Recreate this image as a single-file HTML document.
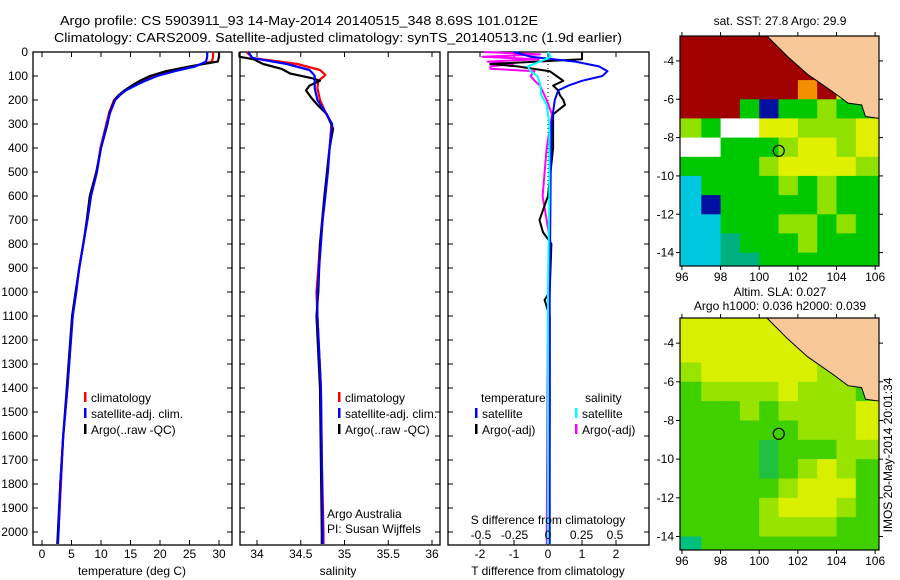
<!DOCTYPE html>
<html><head><meta charset="utf-8">
<style>
html,body{margin:0;padding:0;background:#fff;}
svg{display:block;font-family:"Liberation Sans",sans-serif;}
text{fill:#000;}
</style></head>
<body>
<svg id="fig" width="900" height="580" viewBox="0 0 900 580" xmlns="http://www.w3.org/2000/svg">
<text x="60" y="25" font-size="13" textLength="478" lengthAdjust="spacingAndGlyphs">Argo profile: CS 5903911_93 14-May-2014 20140515_348 8.69S 101.012E</text>
<text x="54" y="42" font-size="13" textLength="568" lengthAdjust="spacingAndGlyphs">Climatology: CARS2009. Satellite-adjusted climatology: synTS_20140513.nc (1.9d earlier)</text>
<g id="plots"></g>
<text transform="translate(892,455) rotate(-90)" font-size="12" text-anchor="middle">IMOS 20-May-2014 20:01:34</text>
</svg>
<script>
// ---------- profile data ----------
const tDepth = [0,20,40,60,80,100,120,140,160,180,200,250,300,400,500,600,700,800,900,1000,1100,1200,1400,1600,1800,2000,2050];
const tSat   = [28.0,28.0,27.8,26.0,22.5,19.5,17.5,15.8,14.2,13.2,12.4,11.6,11.0,10.0,9.3,8.3,7.7,7.0,6.3,5.8,5.2,4.9,4.3,3.6,3.1,2.8,2.7];
const tClim  = [29.0,29.0,28.8,25.5,22.0,19.0,17.0,15.5,14.0,13.0,12.2,11.4,10.9,9.9,9.3,8.3,7.7,7.0,6.3,5.8,5.2,4.9,4.3,3.6,3.2,2.8,2.7];
const tArgo  = [30.0,30.0,29.8,25.0,21.0,18.3,16.6,15.2,14.0,13.0,12.3,11.5,11.1,10.0,9.2,8.1,7.6,7.0,6.3,5.7,5.1,4.8,4.2,3.6,3.1,2.7,2.6];

const sDepth = [0,25,50,75,95,100,120,150,200,250,300,400,500,600,700,800,900,1000,1100,1400,1700,2000,2050];
const sSat   = [33.90,33.95,34.34,34.60,34.65,34.66,34.66,34.66,34.69,34.78,34.86,34.83,34.81,34.78,34.75,34.73,34.71,34.69,34.69,34.73,34.74,34.75,34.75];
const sClim  = [33.88,33.95,34.46,34.72,34.78,34.77,34.70,34.69,34.72,34.78,34.85,34.83,34.80,34.78,34.75,34.72,34.70,34.68,34.69,34.73,34.74,34.76,34.76];
const sArgoDepth = [0,20,30,50,70,90,110,120,140,160,190,220,260,320,400,600,800,1000,1100,1400,1700,2000,2050];
const sArgo  = [33.80,33.80,33.96,34.07,34.28,34.38,34.64,34.72,34.60,34.56,34.62,34.69,34.80,34.87,34.83,34.77,34.72,34.70,34.68,34.72,34.73,34.74,34.74];

const dDepth  = [0,20,40,60,80,100,120,140,160,200,300,500,1000,2050];
const dTSat   = [-1.0,-0.5,0.8,1.5,1.75,1.6,1.0,0.6,0.3,0.2,0.1,0.08,0.05,0.05];
const dTArgoDepth = [0,30,50,60,80,100,120,140,160,180,200,220,260,400,600,700,750,800,1000,1033,1100,1500,2050];
const dTArgo  = [1.0,1.0,-1.7,-0.9,0.05,0.25,0.45,0.15,0.3,0.35,0.45,0.5,0.15,0.15,0.0,-0.25,-0.15,0.1,0.05,-0.1,0.05,0.05,0.03];
const dSDepth = [0,20,40,60,80,100,130,180,220,300,600,1000,2050];
const dSSat   = [0.0,0.02,-0.06,-0.15,-0.13,-0.08,-0.06,-0.05,-0.01,0.01,0.01,0.0,0.0];
const dSArgoDepth = [0,10,20,30,40,50,60,70,80,100,120,140,200,260,400,600,800,1000,2050];
const dSArgo  = [-0.48,-0.06,-0.49,-0.07,-0.45,-0.26,-0.43,-0.43,-0.1,-0.13,-0.1,-0.06,-0.01,0.03,-0.01,-0.04,0.02,0.0,-0.01];

const depthTicks = [0,100,200,300,400,500,600,700,800,900,1000,1100,1200,1300,1400,1500,1600,1700,1800,1900,2000];
const tTicks = [0,5,10,15,20,25,30];
const sTicks = [34,34.5,35,35.5,36];
const dTTicks = [-2,-1,0,1,2];
const dSTicks = [-0.5,-0.25,0,0.25,0.5];

// ---------- map data (1-degree cells, lon 96..106; row 0 = -2.7..-4, row i = -(3+i)..-(4+i)) ----------
const sstRows = ["RRRRRROOOO","RRRRRRROOO","RRRRRRORYO","RRRGBGGLGG","LGWWYYLLLY","WWGGGLYYLY","GGGGLYYYYL","CGGGGLGLGG","CBGGGGGLGG","CCGGGLLGLG","CCTGGGLGGG","CCTTGGGGGG"];
const slaRows = ["YYYYYYLLLL","YYYYYYYLLG","LYYYYYYLLG","GLLLLYLLLG","GGGLGLLLLY","GGGGGGLLLY","GGGGDGGGLL","GGGGDGLYLG","GGGGGLYYYG","GGGGLYYYLG","GGGGLLLLGG","TGGGGGGGGG"];
const landLon = [100.4,101.5,102.5,103.8,104.6,105.3,105.5,106.2,106.2];
const landLat = [-2.7,-3.8,-4.7,-5.6,-6.2,-6.3,-6.9,-7.0,-2.7];
const argoLon = 101.012, argoLat = -8.69;
const mapTicksX = [96,98,100,102,104,106];
const mapTicksY = [-4,-6,-8,-10,-12,-14];

const NS="http://www.w3.org/2000/svg";
const root=document.getElementById('plots');
function el(tag,attrs,parent){const e=document.createElementNS(NS,tag);for(const k in attrs)e.setAttribute(k,attrs[k]);(parent||root).appendChild(e);return e;}
function txt(x,y,s,size,anchor,parent){const t=el('text',{x:x,y:y,'font-size':size||12,'text-anchor':anchor||'start'},parent);t.textContent=s;return t;}

const Y0=52, PX_PER_M=0.24, YB=545;
const yD=d=>Y0+d*PX_PER_M;
const xT=v=>42+v*5.9;
const xS=v=>257+(v-34)*87.5;
const xDT=v=>548+v*34;
const xDS=v=>548+v*134;

function line(xs,ds,fx,color,name,w){
  let d='';
  for(let i=0;i<xs.length;i++){d+=(i?'L':'M')+fx(xs[i]).toFixed(1)+','+yD(ds[i]).toFixed(1);}
  const p=el('path',{d:d,fill:'none',stroke:color,'stroke-width':w||2.2,'stroke-linejoin':'round'});
  
  
  return p;
}

function panel(x0,x1,name,ticks,fx,labels){
  const g=el('g',{});
  
  
  el('rect',{x:x0,y:Y0,width:x1-x0,height:YB-Y0,fill:'none',stroke:'#000','stroke-width':1.3},g);
  depthTicks.forEach(d=>{
    el('line',{x1:x0,x2:x0+5,y1:yD(d),y2:yD(d),stroke:'#000'},g);
    el('line',{x1:x1-5,x2:x1,y1:yD(d),y2:yD(d),stroke:'#000'},g);
  });
  ticks.forEach(v=>{
    const x=fx(v);
    el('line',{x1:x,x2:x,y1:Y0,y2:Y0+5,stroke:'#000'},g);
    el('line',{x1:x,x2:x,y1:YB-5,y2:YB,stroke:'#000'},g);
    if(labels){const t=txt(x,558,String(v),12,'middle',g);
      
      }
  });
  return g;
}

depthTicks.forEach(d=>{
  const t=txt(28,yD(d)+4,String(d),12,'end');
  
  
});

// panel 1
panel(33,232,'temperature-panel',tTicks,xT,true);
line(tClim,tDepth,xT,'#f00','temperature-climatology-line');
line(tArgo,tDepth,xT,'#000','temperature-argo-line');
line(tSat,tDepth,xT,'#00f','temperature-satellite-line');
let t=txt(132,575,'temperature (deg C)',12,'middle');



// panel 2
panel(240,440,'salinity-panel',sTicks,xS,true);
line(sClim,sDepth,xS,'#f00','salinity-climatology-line');
line(sArgo,sArgoDepth,xS,'#000','salinity-argo-line');
line(sSat,sDepth,xS,'#00f','salinity-satellite-line');
t=txt(338,575,'salinity',12,'middle');


t=txt(327,518,'Argo Australia',12);


t=txt(327,533,'PI: Susan Wijffels',12);



// panel 3
panel(448,649,'difference-panel',dTTicks,xDT,true);
el('line',{x1:548,x2:548,y1:Y0,y2:200,stroke:'#000','stroke-dasharray':'1,3'});
line(dSArgo,dSArgoDepth,xDS,'#f0f','salinity-argo-diff-line',2);
line(dTArgo,dTArgoDepth,xDT,'#000','temperature-argo-diff-line',2);
line(dTSat,dDepth,xDT,'#00f','temperature-satellite-diff-line',2);
line(dSSat,dSDepth,xDS,'#0ff','salinity-satellite-diff-line',2);
dSTicks.forEach(v=>{const tt=txt(xDS(v),539,String(v),12,'middle');
  
  });
t=txt(548,524,'S difference from climatology',12,'middle');


t=txt(548,575,'T difference from climatology',12,'middle');



// legends
function legend(x,y,color,label,name){
  const g=el('g',{});
  
  
  el('rect',{x:x,y:y-8,width:2.5,height:10,fill:color},g);
  txt(x+7,y+2,label,12,'start',g);
}
legend(84,400,'#f00','climatology','legend-climatology');
legend(84,416,'#00f','satellite-adj. clim.','legend-satellite-adj');
legend(84,432,'#000','Argo(..raw -QC)','legend-argo');
legend(338,400,'#f00','climatology','legend2-climatology');
legend(338,416,'#00f','satellite-adj. clim.','legend2-satellite-adj');
legend(338,432,'#000','Argo(..raw -QC)','legend2-argo');
t=txt(481,402,'temperature',12);


t=txt(585,402,'salinity',12);


legend(475,416,'#00f','satellite','legend3-t-satellite');
legend(475,432,'#000','Argo(-adj)','legend3-t-argo');
legend(575,416,'#0ff','satellite','legend3-s-satellite');
legend(575,432,'#f0f','Argo(-adj)','legend3-s-argo');

// ---------- maps ----------
const sstColors={R:'#a00000',O:'#f09000',Y:'#e0f000',L:'#90e000',G:'#00c800',T:'#00b080',C:'#00c8e0',B:'#0010a0',W:'#ffffff'};
const slaColors={Y:'#d8f000',L:'#98e400',G:'#40d000',D:'#20c040',T:'#00c080'};
function map(y0,h,rows,colors,name,titles,titleY){
  const x0=680,x1=879,y1=y0+h;
  const lonL=95.9,lonR=106.2,latT=-2.7,latB=-14.7;
  const fx=lo=>x0+(lo-lonL)/(lonR-lonL)*(x1-x0);
  const fy=la=>y0+(latT-la)/(latT-latB)*(y1-y0);
  const g=el('g',{});
  
  
  rows.forEach((r,i)=>{
    const laTop = i===0?latT:-(3+i);
    const laBot = Math.max(-(4+i),latB);
    for(let j=0;j<r.length;j++){
      const lo=96+j;
      const xa=j===0?x0:fx(lo), xb=j===r.length-1?x1:fx(lo+1);
      const ya=fy(laTop), yb=fy(laBot);
      const c=el('rect',{x:xa.toFixed(1),y:ya.toFixed(1),width:(xb-xa+0.5).toFixed(1),height:(yb-ya+0.5).toFixed(1),fill:colors[r[j]]},g);
      
      
    }
  });
  let pts=landLon.map((lo,i)=>fx(lo).toFixed(1)+','+fy(landLat[i]).toFixed(1)).join(' ');
  const land=el('polygon',{points:pts,fill:'#f8c898',stroke:'#000','stroke-width':1},g);
  
  
  const c=el('circle',{cx:fx(argoLon),cy:fy(argoLat),r:5.5,fill:'none',stroke:'#000','stroke-width':1.2},g);
  
  
  el('rect',{x:x0,y:y0,width:x1-x0,height:y1-y0,fill:'none',stroke:'#000','stroke-width':1.2},g);
  mapTicksX.forEach(v=>{const x=fx(v);el('line',{x1:x,x2:x,y1:y0-4,y2:y0,stroke:'#000'},g);el('line',{x1:x,x2:x,y1:y1,y2:y1+4,stroke:'#000'},g);txt(x,y1+15,String(v),12,'middle',g);});
  mapTicksY.forEach(v=>{const y=fy(v);el('line',{x1:x0-4,x2:x0,y1:y,y2:y,stroke:'#000'},g);el('line',{x1:x1,x2:x1+4,y1:y,y2:y,stroke:'#000'},g);txt(x0-6,y+4,String(v),12,'end',g);});
  titles.forEach((s,i)=>txt(780,titleY+i*14,s,12,'middle',g));
}
map(36,230,sstRows,sstColors,'sst-map',['sat. SST: 27.8 Argo: 29.9'],25);
map(318,232,slaRows,slaColors,'sla-map',['Altim. SLA: 0.027','Argo h1000: 0.036 h2000: 0.039'],296);
</script>
</body></html>
